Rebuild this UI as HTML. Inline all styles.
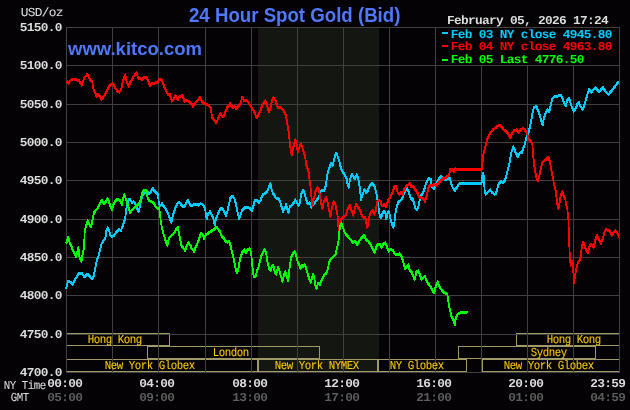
<!DOCTYPE html>
<html><head><meta charset="utf-8"><title>24 Hour Spot Gold (Bid)</title>
<style>
html,body{margin:0;padding:0;background:#040204;}
body{width:630px;height:410px;position:relative;overflow:hidden;font-family:"Liberation Sans",sans-serif;}
svg{position:absolute;left:0;top:0;}
.m{position:absolute;font-family:"Liberation Mono",monospace;white-space:pre;transform-origin:0 0;text-rendering:geometricPrecision;}
.t{position:absolute;font-family:"Liberation Sans",sans-serif;font-weight:bold;white-space:pre;color:#4f78ff;transform-origin:0 0;}
</style></head><body>

<svg width="630" height="410" viewBox="0 0 630 410">
<rect x="258" y="28" width="121" height="344" fill="#141612"/>
<g fill="none" stroke="#a09b66" stroke-width="1" shape-rendering="crispEdges">
<rect x="66.5" y="333.5" width="103" height="12"/>
<rect x="516.5" y="333.5" width="103" height="12"/>
<rect x="147.5" y="346.5" width="172" height="12"/>
<rect x="458.5" y="346.5" width="137" height="12"/>
<rect x="66.5" y="359.5" width="191" height="12"/>
<rect x="258.5" y="359.5" width="120" height="12"/>
<rect x="377.5" y="359.5" width="89" height="12"/>
<rect x="482.5" y="359.5" width="137" height="12"/>
</g>
<g fill="#404040" shape-rendering="crispEdges">
<rect x="66" y="27" width="1" height="346"/>
<rect x="112" y="27" width="1" height="346"/>
<rect x="158" y="27" width="1" height="346"/>
<rect x="205" y="27" width="1" height="346"/>
<rect x="251" y="27" width="1" height="346"/>
<rect x="297" y="27" width="1" height="346"/>
<rect x="343" y="27" width="1" height="346"/>
<rect x="389" y="27" width="1" height="346"/>
<rect x="435" y="27" width="1" height="346"/>
<rect x="481" y="27" width="1" height="346"/>
<rect x="527" y="27" width="1" height="346"/>
<rect x="573" y="27" width="1" height="346"/>
<rect x="619" y="27" width="1" height="346"/>
<rect x="66" y="27" width="554" height="1"/>
<rect x="66" y="65" width="554" height="1"/>
<rect x="66" y="104" width="554" height="1"/>
<rect x="66" y="142" width="554" height="1"/>
<rect x="66" y="180" width="554" height="1"/>
<rect x="66" y="219" width="554" height="1"/>
<rect x="66" y="257" width="554" height="1"/>
<rect x="66" y="295" width="554" height="1"/>
<rect x="66" y="334" width="554" height="1"/>
<rect x="66" y="372" width="554" height="1"/>
</g>
<defs>
<path id="pblue" d="M66.0 288.4 L66.7 286.2 L67.8 281.1 L69.7 281.8 L71.1 282.5 L72.6 284 L74.0 281.1 L76.2 277.4 L78.4 273.8 L79.9 272.7 L82.1 273.3 L84.3 276.7 L86.5 274.5 L88.2 274.2 L90.1 276.7 L92.0 278.9 L93.8 275.2 L95.3 267.9 L96.7 260.6 L98.5 256.2 L99.9 249.6 L101.8 243 L103.7 240.1 L105.5 237.9 L106.2 231.2 L107.7 227.5 L109.1 230.5 L110.6 235.6 L112.5 236.3 L114.3 234.8 L116.5 231.9 L118.7 229 L120.8 230.5 L122.3 226.8 L123.8 222.4 L125.2 218 L126.3 208.5 L127.4 203.4 L128.9 199 L130.4 199.7 L132.1 202.7 L133.6 201.2 L135.5 204.1 L136.9 208.5 L138.7 211.4 L139.9 206.3 L141.3 199 L142.8 194.6 L144.7 193.2 L146.4 190.2 L148.6 193.2 L150.5 192.4 L152.6 188 L154.5 191 L156.7 193.2 L158.0 193.9 L158.7 201.9 L160.2 205.6 L162.1 203.4 L163.9 206.3 L166.0 209.3 L167.9 212.9 L169.7 218 L171.5 222.4 L172.6 216.6 L174.1 211.4 L175.6 207.1 L177.3 203.4 L179.2 201.9 L181.1 204.1 L182.9 206.3 L185.1 205.6 L186.5 201.9 L188.0 199.7 L189.4 203.4 L191.6 205.6 L193.8 204.1 L196.0 204.1 L198.2 204.9 L200.4 203.4 L202.6 204.1 L204.5 207.1 L205.5 210.7 L206.6 218.8 L207.7 214.4 L209.9 211.4 L211.4 214.4 L213.3 218 L214.8 224.6 L215.8 219.5 L217.7 214.4 L219.4 210 L221.2 207.8 L223.1 209.3 L224.6 212.9 L226.0 215.1 L227.5 211.4 L228.9 204.1 L230.4 197.6 L232.6 195.8 L234.3 198.3 L235.8 203.4 L237.3 210.7 L239.2 218.8 L240.6 214.4 L242.1 210 L244.3 207.8 L246.5 207.1 L248.4 207.1 L250.0 208.5 L252.0 210.5 L253.5 205.3 L254.6 200.2 L256.8 199.8 L259.0 202.4 L260.8 199.5 L262.7 194.4 L264.9 193.3 L267.1 191.4 L269.0 186.3 L270.4 183.4 L271.4 188.5 L272.9 192.9 L274.8 195.8 L276.6 198.8 L278.8 198.3 L280.2 201.7 L281.7 206.8 L283.1 211.2 L284.6 208.3 L286.1 203.9 L287.5 209.7 L288.6 212.7 L289.7 206.8 L291.5 205.3 L293.4 203.1 L295.3 199.5 L297.0 202.4 L298.5 205.3 L300.0 201.7 L301.4 192.9 L303.2 190 L304.6 192.9 L306.1 199.5 L307.6 203.1 L309.5 202.4 L311.4 206.8 L313.1 203.9 L315.3 201.7 L317.5 198.8 L319.3 195.8 L320.4 191.4 L322.2 190 L324.1 190.7 L325.6 186.3 L327.5 173.9 L329.0 168.3 L331.2 162.9 L332.7 164.8 L334.4 158.5 L335.9 152.7 L337.3 154.9 L339.2 160.7 L341.1 168.8 L342.9 172.4 L344.4 173.9 L346.6 178.3 L347.5 183.9 L348.7 187.3 L350.1 178.8 L351.9 174.4 L353.8 176.6 L355.2 178.8 L356.7 174.4 L358.2 178 L359.6 186.1 L361.1 199.3 L362.6 194.1 L364.5 189 L366.2 192.7 L367.7 190.5 L369.9 185.4 L372.1 183.2 L374.3 185.4 L375.7 190.5 L376.7 194.6 L377.9 201.9 L379.0 210.7 L380.0 216.6 L381.1 217.3 L382.5 213.6 L384.0 210.7 L385.2 212.2 L386.3 218.8 L387.4 213.6 L388.8 211.4 L389.8 215.1 L391.0 221 L392.5 225.3 L393.5 227.5 L394.4 222.4 L395.4 212.9 L396.9 205.6 L398.3 201.9 L400.5 200.5 L402.0 198.3 L403.4 194.6 L404.9 191 L407.1 188 L408.6 191 L409.7 194.6 L411.2 199 L412.7 198.3 L414.1 203.4 L415.6 208.5 L417.0 209.3 L418.5 206.3 L419.5 200.5 L421.0 195.4 L422.5 193.2 L424.4 188.8 L425.8 183.7 L427.3 180.7 L429.0 177.8 L430.9 179.3 L431.9 186.6 L433.8 188.8 L435.6 185.8 L437.3 181.4 L439.2 177.8 L441.1 176.3 L442.9 178.5 L445.1 179.3 L447.3 178.5 L449.9 177.8 L451.4 184.4 L453.1 188 L454.9 190.2 L456.8 187.3 L459.0 183.6 L459.3 183.25 L481.6 183.25 L482.1 176.3 L483.1 173.4 L484.0 176.3 L484.5 189.5 L485.7 193.9 L487.9 191.7 L490.1 189.5 L492.3 192.4 L494.5 193.9 L496.0 193.1 L497.4 188 L498.9 182.9 L501.1 181.4 L503.3 182.2 L505.0 180 L506.5 174.9 L507.9 169 L509.4 163.2 L510.6 155.9 L511.5 151.6 L513.3 146.4 L515.0 150.8 L516.9 154.5 L517.9 156.7 L519.8 153 L521.8 152.3 L523.5 147.2 L525.0 143.5 L526.4 136.9 L528.6 131.8 L530.1 126 L531.6 118.7 L532.1 113.9 L534.0 107.3 L536.1 105.8 L537.5 108.8 L539.4 113.9 L541.3 120.5 L542.7 124.8 L543.8 118.3 L545.7 112.4 L547.5 109.5 L549.2 111.7 L550.7 105.1 L552.2 98.5 L554.5 96.3 L557.0 96.8 L559.2 94.9 L561.4 95.6 L562.8 99.3 L564.3 102.9 L565.8 105.8 L567.2 100 L569.1 97.8 L570.6 102.9 L572.3 108 L573.8 111 L575.6 108 L577.5 103.6 L578.9 102.2 L580.4 105.8 L582.6 108.8 L584.3 105.1 L586.2 98.5 L587.7 93.4 L589.2 89 L591.4 91.9 L593.6 89 L595.5 87.6 L597.2 89.7 L599.4 91.6 L601.3 89 L602.8 87.3 L604.5 89.7 L606.7 92.7 L608.6 94.1 L610.7 91.6 L613.3 88.3 L615.5 85.4 L617.7 82.4 L619.0 81.7"/>
<path id="pred" d="M66.7 81.2 L68.2 83.1 L70.4 80.2 L73.3 78.7 L76.2 79.3 L79.2 80.5 L81.8 84.9 L84.3 77.6 L87.2 74.2 L89.4 78.3 L92.3 81.9 L93.1 87.8 L95.3 92.9 L96.3 96.3 L97.4 93.9 L99.6 95.8 L101.5 98.8 L104.0 95.8 L106.2 92.2 L108.4 87.1 L110.6 84.6 L112.8 83.4 L115.0 87.1 L117.2 90.7 L119.4 91.9 L121.3 88.5 L123.0 80.5 L125.2 74.6 L126.7 81.2 L128.6 86 L130.4 81.9 L132.6 78.3 L134.7 74.6 L136.5 72 L138.0 77.6 L139.9 78.3 L142.1 79 L144.3 77.3 L146.4 77.3 L148.2 80.5 L150.1 85.6 L152.3 82.7 L154.5 83.1 L157.4 81.9 L158.7 79.7 L160.2 78.7 L162.1 80.5 L163.9 85.6 L166.0 90.7 L167.9 94.4 L170.0 94.4 L171.9 101 L173.8 98.8 L175.6 95.4 L177.7 99.5 L179.9 96.3 L182.6 95.1 L184.3 101 L186.5 100.2 L188.7 101 L190.9 103.1 L193.1 106.1 L195.3 102.4 L197.5 100.2 L200.1 97.3 L201.9 101 L204.1 103.6 L204.7 103.5 L206.9 103.9 L209.1 105.4 L211.0 108.3 L212.0 117.1 L214.2 120 L216.4 122.5 L218.6 117.1 L220.4 113.7 L222.3 116 L223.7 116.3 L225.9 110.5 L227.4 106.8 L230.0 103.5 L232.5 107.3 L234.7 106.4 L236.2 108.3 L238.4 105.8 L240.3 103.9 L242.3 97 L244.2 100.2 L246.4 99.9 L248.6 102.4 L250.8 106.1 L253.0 109.7 L255.2 114.1 L256.7 117.5 L258.4 114.9 L260.3 110.5 L262.5 104.6 L265.1 100.5 L266.9 103.9 L268.6 111.6 L270.6 107.6 L272.0 100.2 L273.5 97 L275.7 101 L277.9 107.6 L280.1 106.8 L282.3 109 L284.2 111.2 L285.9 114.9 L287.4 124.4 L288.8 132.4 L290.0 145.6 L291.7 154.6 L293.5 146.1 L295.4 139.5 L296.8 144.6 L297.8 151.9 L299.7 146.1 L301.2 143.9 L303.1 149.7 L304.9 155.6 L306.3 164.4 L308.5 171 L309.7 181.2 L310.3 184.6 L311.4 196.3 L312.4 205.1 L314.3 196.3 L315.7 190.5 L317.2 187.6 L318.7 188.3 L320.1 196.3 L321.2 202.9 L322.3 208 L324.1 200.7 L326.0 197.1 L327.4 200.7 L328.9 209.5 L330.4 216.1 L331.8 208 L333.7 201.4 L335.2 202.9 L336.7 211 L338.1 218.3 L338.4 227.8 L338.6 232.6 L339.1 226.3 L341.3 219 L343.5 216.8 L345.7 215.3 L347.9 208 L349.8 205.1 L351.6 210.2 L353.3 215.3 L354.5 209.5 L356.3 203.9 L358.2 207.3 L360.1 210.2 L361.8 215.3 L363.6 217.5 L365.5 216.8 L366.9 227 L368.0 225.6 L369.1 216.8 L370.9 212.4 L372.8 210.2 L374.3 213.9 L375.7 211 L377.2 201.4 L379.1 200 L380.5 201.4 L382.3 205.8 L384.1 204.4 L386.0 206.6 L388.0 200.5 L390.2 197.5 L392.4 192.4 L394.3 186.6 L396.1 185.8 L397.6 192.4 L399.3 193.9 L401.2 191.7 L402.7 193.9 L404.1 189.5 L406.3 185.8 L408.5 184.4 L409.7 182.9 L411.4 186.6 L413.6 186.6 L415.8 190.2 L417.7 193.1 L419.5 196.8 L421.7 197.5 L423.9 199 L425.0 201.9 L426.8 195.3 L428.3 188 L429.7 185.1 L431.9 185.8 L434.1 184.4 L436.3 185.1 L438.5 182.9 L440.7 180.7 L442.9 178.5 L445.1 177.8 L447.3 176.3 L449.0 174.9 L450.2 169 L452.4 169.7 L453.9 171.2 L455.3 168.3 L456.8 169 L457.0 169.25 L481.6 169.25 L482.3 164.7 L483.3 154.5 L485.5 145.7 L487.7 137.7 L489.9 133.3 L492.8 129.6 L495.7 127.4 L499.4 124.9 L501.6 126.7 L503.8 129.6 L506.0 131.1 L508.1 133.3 L510.3 137.7 L511.8 133.3 L514.0 130.4 L516.2 129.6 L518.4 131.8 L520.6 129.6 L523.2 127.9 L525.3 130.4 L527.2 133.3 L528.6 138.4 L530.8 141.3 L532.3 143.5 L533.0 153 L534.0 163.3 L535.2 171.3 L536.5 177.8 L538.0 180.7 L539.4 174.9 L540.9 167.6 L542.4 162.4 L544.6 160.2 L546.7 158.8 L548.2 157 L549.7 160.2 L551.1 169 L552.6 176.3 L554.1 184.4 L555.5 189.5 L556.7 198.3 L557.7 207 L558.4 207.8 L559.5 202.7 L560.9 194.6 L562.4 191.7 L563.9 196.1 L565.3 199 L566.5 205.6 L567.5 210 L567.7 213.2 L568.4 219 L569.0 238 L569.7 252.7 L570.6 264.9 L572.0 261.2 L573.1 264.9 L573.5 275.1 L574.2 282.4 L575.0 275.1 L576.4 267.8 L577.9 261.9 L579.4 260.5 L580.8 256.1 L581.8 246.6 L583.3 241.7 L584.8 246.1 L586.2 249.7 L587.7 252.7 L589.2 246.8 L590.6 243.9 L592.1 244.6 L593.6 247.5 L595.0 241 L596.9 235.1 L598.7 238.8 L600.9 243.1 L602.8 238.8 L604.5 231.4 L606.0 229.3 L608.2 230 L609.6 230.7 L611.8 235.1 L613.6 232.2 L615.5 230.7 L617.4 232.9 L619.0 236.6"/>
<path id="pgreen" d="M66.0 242.3 L66.7 241.6 L68.2 237.2 L69.7 242.3 L71.9 247.4 L74.0 252.6 L75.9 256.2 L77.4 251.1 L78.4 247.4 L79.5 256.9 L81.4 261.3 L82.4 255.5 L83.6 249.6 L84.3 240.9 L84.7 231.2 L86.2 225.3 L87.6 220.2 L89.1 223.1 L90.9 226.8 L92.3 221 L93.8 212.9 L95.3 210.7 L97.4 208.5 L99.6 204.1 L101.8 199.7 L103.7 203.4 L105.5 201.9 L107.7 198.3 L109.1 201.9 L110.6 206.3 L112.1 209.3 L113.5 204.1 L115.7 200.5 L117.9 198.7 L120.1 200.5 L121.9 204.1 L123.3 197.6 L124.5 194.6 L126.0 199 L127.4 204.1 L128.9 208.5 L130.1 212.5 L131.8 210 L134.0 207.8 L136.2 205.6 L138.4 204.1 L140.6 200.5 L141.8 193.9 L143.5 190.5 L145.7 189.9 L146.7 193.2 L147.9 198.3 L149.4 200.5 L151.6 201.6 L153.8 202.7 L155.5 206.3 L158.0 208.5 L159.2 208.5 L160.2 215.1 L160.9 222.3 L162.4 229.6 L164.1 235.5 L166.0 242.1 L167.5 245.7 L168.5 239.1 L170.4 236.2 L172.6 234 L174.8 231.8 L176.3 228.9 L177.7 227 L178.8 232.6 L180.2 239.1 L181.4 245 L183.2 247.9 L185.1 250.1 L186.5 246.4 L188.4 242.1 L190.2 245 L191.9 248.6 L194.3 251.3 L195.7 246.4 L197.5 242.8 L199.7 236.9 L201.1 232.6 L202.6 234.7 L204.1 238.1 L205.5 234.7 L207.7 233.3 L209.9 231.8 L212.1 230.4 L214.3 228.9 L216.5 227 L218.3 228.9 L220.2 231.8 L221.6 235.5 L223.5 237.7 L225.3 241.3 L227.5 242.1 L229.4 241.3 L230.8 246.4 L232.6 254.5 L234.1 260.3 L235.5 267.7 L237.0 272.8 L238.2 269.8 L239.2 263.3 L240.6 256.7 L242.5 251.6 L244.3 249.4 L245.8 252.3 L247.2 249.4 L250.0 248.6 L251.2 253.4 L252.2 265.1 L253.7 276.8 L255.6 276.1 L257.3 270.2 L259.1 265.1 L261.0 256.3 L262.9 252.7 L264.6 249 L266.1 252.7 L267.6 262.2 L269.0 268 L270.5 270.2 L271.9 265.8 L273.4 265.1 L274.9 272.4 L276.3 273.9 L277.8 267.3 L279.3 269.5 L280.7 275.3 L282.5 281.2 L283.9 275.3 L285.4 271 L286.9 276.8 L288.3 280.5 L289.5 268 L291.0 257.8 L292.7 253.4 L294.6 251.2 L296.1 254.9 L297.5 260.7 L299.0 264.4 L300.5 268 L301.9 265.1 L303.4 266.6 L304.8 264.4 L306.3 268.8 L307.8 273.9 L309.2 278.3 L310.7 281.9 L312.2 276.8 L313.2 273.9 L314.4 278.3 L315.5 286.3 L316.6 287.8 L318.0 283.4 L319.9 284.1 L321.7 279.7 L323.1 276.8 L324.6 273.9 L326.3 273.1 L327.8 268.8 L329.3 261.4 L331.2 258.5 L333.4 256.3 L335.6 254.1 L337.0 247.6 L338.5 241 L339.1 232.8 L340.2 225.5 L341.4 223.3 L342.9 226.9 L344.6 232.1 L346.8 235 L349.0 237.9 L351.2 240.1 L353.1 242.3 L354.9 240.8 L357.1 244.5 L359.3 240.8 L361.4 237.9 L364.4 235 L366.3 240.1 L368.3 240.8 L370.2 243.8 L372.4 248.1 L374.6 252.5 L376.5 246 L378.3 243.8 L380.0 244.5 L381.5 247.4 L383.4 243.8 L385.3 242.7 L387.0 246.7 L388.8 251.1 L390.7 248.9 L392.9 250.3 L395.1 254 L397.3 254.7 L399.5 253.3 L401.4 256.2 L403.1 260.6 L404.9 268.3 L406.7 266.8 L408.5 264.6 L409.6 269.7 L411.8 271.9 L413.3 276.3 L414.7 279.3 L416.2 271.9 L418.1 270.5 L419.9 274.1 L421.6 279.3 L423.5 277.1 L425.0 276.3 L426.9 281.4 L428.9 284.4 L430.8 286.6 L432.7 291 L434.2 292.4 L435.7 286.6 L437.7 281.4 L439.6 286.6 L441.5 289.5 L443.6 291.7 L445.5 293.1 L447.4 293.9 L448.5 302.6 L450.0 309.9 L451.4 315.7 L453.3 319.4 L454.7 324.5 L455.4 319.4 L456.9 315 L458.8 313.1 L461.7 312.4 L464.6 312.1 L467.5 312.4"/>
</defs>
<g fill="none" stroke="#00ccff" stroke-width="1.7" stroke-linejoin="round" stroke-linecap="butt" shape-rendering="crispEdges"><use href="#pblue" y="-0.35"/><use href="#pblue" y="0.85"/></g>
<g fill="none" stroke="#ff0000" stroke-width="1.7" stroke-linejoin="round" stroke-linecap="butt" shape-rendering="crispEdges"><use href="#pred" y="-0.35"/><use href="#pred" y="0.85"/></g>
<g fill="none" stroke="#00ff00" stroke-width="1.7" stroke-linejoin="round" stroke-linecap="butt" shape-rendering="crispEdges"><use href="#pgreen" y="-0.35"/><use href="#pgreen" y="0.85"/></g>
<rect x="435.5" y="27.5" width="184" height="38" fill="#040204" stroke="#404040" stroke-width="1" shape-rendering="crispEdges"/>
</svg>
<div id="txt" style="position:absolute;left:0;top:0;width:630px;height:410px;will-change:transform">
<div class="t" id="title" style="left:189.3px;top:4.2px;font-size:19.6px;line-height:22px;transform:scale(0.952,1);">24 Hour Spot Gold (Bid)</div>
<div class="t" id="kitco" style="left:68px;top:38px;font-size:18.5px;line-height:22px;">www.kitco.com</div>
<div class="m" style="left:20.65px;top:6.79px;font-size:12.833px;line-height:12.833px;letter-spacing:-0.700px;font-weight:normal;color:#dcdcdc;transform:translate(0,0px) scale(1,0.945);-webkit-text-stroke:0.06px;">USD/oz</div>
<div class="m" style="left:19.65px;top:21.79px;font-size:12.833px;line-height:12.833px;letter-spacing:-0.700px;font-weight:bold;color:#dcdcdc;transform:translate(0,0px) scale(1,0.945);">5150.0</div>
<div class="m" style="left:19.65px;top:59.79px;font-size:12.833px;line-height:12.833px;letter-spacing:-0.700px;font-weight:bold;color:#dcdcdc;transform:translate(0,0px) scale(1,0.945);">5100.0</div>
<div class="m" style="left:19.65px;top:98.79px;font-size:12.833px;line-height:12.833px;letter-spacing:-0.700px;font-weight:bold;color:#dcdcdc;transform:translate(0,0px) scale(1,0.945);">5050.0</div>
<div class="m" style="left:19.65px;top:136.79px;font-size:12.833px;line-height:12.833px;letter-spacing:-0.700px;font-weight:bold;color:#dcdcdc;transform:translate(0,0px) scale(1,0.945);">5000.0</div>
<div class="m" style="left:19.65px;top:174.79px;font-size:12.833px;line-height:12.833px;letter-spacing:-0.700px;font-weight:bold;color:#dcdcdc;transform:translate(0,0px) scale(1,0.945);">4950.0</div>
<div class="m" style="left:19.65px;top:213.79px;font-size:12.833px;line-height:12.833px;letter-spacing:-0.700px;font-weight:bold;color:#dcdcdc;transform:translate(0,0px) scale(1,0.945);">4900.0</div>
<div class="m" style="left:19.65px;top:251.79px;font-size:12.833px;line-height:12.833px;letter-spacing:-0.700px;font-weight:bold;color:#dcdcdc;transform:translate(0,0px) scale(1,0.945);">4850.0</div>
<div class="m" style="left:19.65px;top:289.79px;font-size:12.833px;line-height:12.833px;letter-spacing:-0.700px;font-weight:bold;color:#dcdcdc;transform:translate(0,0px) scale(1,0.945);">4800.0</div>
<div class="m" style="left:19.65px;top:328.79px;font-size:12.833px;line-height:12.833px;letter-spacing:-0.700px;font-weight:bold;color:#dcdcdc;transform:translate(0,0px) scale(1,0.945);">4750.0</div>
<div class="m" style="left:19.65px;top:366.79px;font-size:12.833px;line-height:12.833px;letter-spacing:-0.700px;font-weight:bold;color:#dcdcdc;transform:translate(0,0px) scale(1,0.945);">4700.0</div>
<div class="m" style="left:47.15px;top:377.79px;font-size:12.833px;line-height:12.833px;letter-spacing:-0.700px;font-weight:bold;color:#dcdcdc;transform:translate(0,0px) scale(1,0.945);">00:00</div>
<div class="m" style="left:47.15px;top:391.79px;font-size:12.833px;line-height:12.833px;letter-spacing:-0.700px;font-weight:bold;color:#5c5c5c;transform:translate(0,0px) scale(1,0.945);">05:00</div>
<div class="m" style="left:139.15px;top:377.79px;font-size:12.833px;line-height:12.833px;letter-spacing:-0.700px;font-weight:bold;color:#dcdcdc;transform:translate(0,0px) scale(1,0.945);">04:00</div>
<div class="m" style="left:139.15px;top:391.79px;font-size:12.833px;line-height:12.833px;letter-spacing:-0.700px;font-weight:bold;color:#5c5c5c;transform:translate(0,0px) scale(1,0.945);">09:00</div>
<div class="m" style="left:232.15px;top:377.79px;font-size:12.833px;line-height:12.833px;letter-spacing:-0.700px;font-weight:bold;color:#dcdcdc;transform:translate(0,0px) scale(1,0.945);">08:00</div>
<div class="m" style="left:232.15px;top:391.79px;font-size:12.833px;line-height:12.833px;letter-spacing:-0.700px;font-weight:bold;color:#5c5c5c;transform:translate(0,0px) scale(1,0.945);">13:00</div>
<div class="m" style="left:324.15px;top:377.79px;font-size:12.833px;line-height:12.833px;letter-spacing:-0.700px;font-weight:bold;color:#dcdcdc;transform:translate(0,0px) scale(1,0.945);">12:00</div>
<div class="m" style="left:324.15px;top:391.79px;font-size:12.833px;line-height:12.833px;letter-spacing:-0.700px;font-weight:bold;color:#5c5c5c;transform:translate(0,0px) scale(1,0.945);">17:00</div>
<div class="m" style="left:416.15px;top:377.79px;font-size:12.833px;line-height:12.833px;letter-spacing:-0.700px;font-weight:bold;color:#dcdcdc;transform:translate(0,0px) scale(1,0.945);">16:00</div>
<div class="m" style="left:416.15px;top:391.79px;font-size:12.833px;line-height:12.833px;letter-spacing:-0.700px;font-weight:bold;color:#5c5c5c;transform:translate(0,0px) scale(1,0.945);">21:00</div>
<div class="m" style="left:508.15px;top:377.79px;font-size:12.833px;line-height:12.833px;letter-spacing:-0.700px;font-weight:bold;color:#dcdcdc;transform:translate(0,0px) scale(1,0.945);">20:00</div>
<div class="m" style="left:508.15px;top:391.79px;font-size:12.833px;line-height:12.833px;letter-spacing:-0.700px;font-weight:bold;color:#5c5c5c;transform:translate(0,0px) scale(1,0.945);">01:00</div>
<div class="m" style="left:590.15px;top:377.79px;font-size:12.833px;line-height:12.833px;letter-spacing:-0.700px;font-weight:bold;color:#dcdcdc;transform:translate(0,0px) scale(1,0.945);">23:59</div>
<div class="m" style="left:590.15px;top:391.79px;font-size:12.833px;line-height:12.833px;letter-spacing:-0.700px;font-weight:bold;color:#5c5c5c;transform:translate(0,0px) scale(1,0.945);">04:59</div>
<div class="m" style="left:3.76px;top:380.99px;font-size:10.800px;line-height:10.800px;letter-spacing:-0.480px;font-weight:normal;color:#dcdcdc;transform:translate(0,0px) scale(1,1.122);-webkit-text-stroke:0.06px;">NY Time</div>
<div class="m" style="left:10.76px;top:392.99px;font-size:10.800px;line-height:10.800px;letter-spacing:-0.480px;font-weight:normal;color:#dcdcdc;transform:translate(0,0px) scale(1,1.122);-webkit-text-stroke:0.06px;">GMT</div>
<div class="m" style="left:446.95px;top:14.79px;font-size:12.833px;line-height:12.833px;letter-spacing:-0.700px;font-weight:bold;color:#dcdcdc;transform:translate(0,0px) scale(1,0.945);">February 05, 2026 17:24</div>
<div class="m" style="left:450.85px;top:28.79px;font-size:12.833px;line-height:12.833px;letter-spacing:-0.700px;font-weight:bold;color:#00ccff;transform:translate(0,0px) scale(1,0.945);">Feb 03 NY close 4945.80</div>
<div class="m" style="left:450.85px;top:40.79px;font-size:12.833px;line-height:12.833px;letter-spacing:-0.700px;font-weight:bold;color:#ff0000;transform:translate(0,0px) scale(1,0.945);">Feb 04 NY close 4963.80</div>
<div class="m" style="left:450.85px;top:53.79px;font-size:12.833px;line-height:12.833px;letter-spacing:-0.700px;font-weight:bold;color:#00ff00;transform:translate(0,0px) scale(1,0.945);">Feb 05 Last 4776.50</div>
<div style="position:absolute;left:442px;top:32px;width:6px;height:2px;background:#00ccff"></div>
<div style="position:absolute;left:442px;top:45px;width:6px;height:2px;background:#ff0000"></div>
<div style="position:absolute;left:442px;top:59px;width:6px;height:2px;background:#00ff00"></div>
<div class="m" style="left:87.76px;top:334.89px;font-size:10.800px;line-height:10.800px;letter-spacing:-0.480px;font-weight:normal;color:#ffcc00;transform:translate(0,0px) scale(1,1.122);-webkit-text-stroke:0.06px;">Hong Kong</div>
<div class="m" style="left:212.76px;top:347.89px;font-size:10.800px;line-height:10.800px;letter-spacing:-0.480px;font-weight:normal;color:#ffcc00;transform:translate(0,0px) scale(1,1.122);-webkit-text-stroke:0.06px;">London</div>
<div class="m" style="left:104.76px;top:360.89px;font-size:10.800px;line-height:10.800px;letter-spacing:-0.480px;font-weight:normal;color:#ffcc00;transform:translate(0,0px) scale(1,1.122);-webkit-text-stroke:0.06px;">New York Globex</div>
<div class="m" style="left:274.76px;top:360.89px;font-size:10.800px;line-height:10.800px;letter-spacing:-0.480px;font-weight:normal;color:#ffcc00;transform:translate(0,0px) scale(1,1.122);-webkit-text-stroke:0.06px;">New York NYMEX</div>
<div class="m" style="left:389.76px;top:360.89px;font-size:10.800px;line-height:10.800px;letter-spacing:-0.480px;font-weight:normal;color:#ffcc00;transform:translate(0,0px) scale(1,1.122);-webkit-text-stroke:0.06px;">NY Globex</div>
<div class="m" style="left:546.76px;top:334.89px;font-size:10.800px;line-height:10.800px;letter-spacing:-0.480px;font-weight:normal;color:#ffcc00;transform:translate(0,0px) scale(1,1.122);-webkit-text-stroke:0.06px;">Hong Kong</div>
<div class="m" style="left:530.76px;top:347.89px;font-size:10.800px;line-height:10.800px;letter-spacing:-0.480px;font-weight:normal;color:#ffcc00;transform:translate(0,0px) scale(1,1.122);-webkit-text-stroke:0.06px;">Sydney</div>
<div class="m" style="left:503.76px;top:360.89px;font-size:10.800px;line-height:10.800px;letter-spacing:-0.480px;font-weight:normal;color:#ffcc00;transform:translate(0,0px) scale(1,1.122);-webkit-text-stroke:0.06px;">New York Globex</div>
</div>
</body></html>
